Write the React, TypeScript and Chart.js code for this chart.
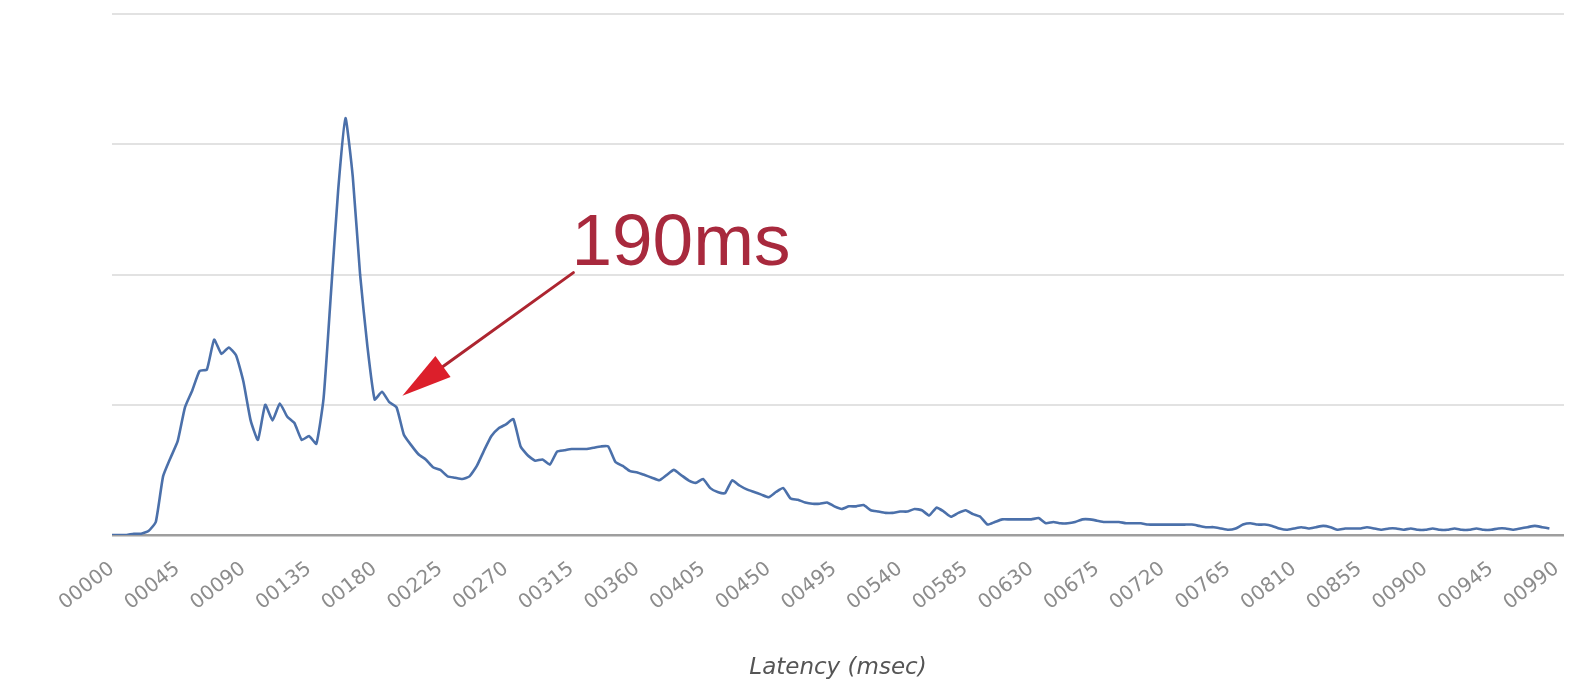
import React, { useEffect, useRef } from "react";
import { Chart, registerables } from "chart.js";

Chart.register(...registerables);

// Histogram bins of 5 ms each (00000 .. 00995)
const BIN_MS = 5;
const BIN_COUNT = 200;
const LABEL_EVERY = 9; // one visible tick label every 45 ms

// Request counts per 5 ms bin
const counts: number[] = [
  0, 0, 0, 1, 1, 3, 10, 45, 59, 72,
  98, 111, 126, 127, 150, 139, 144, 138, 118, 88,
  73, 100, 88, 101, 91, 86, 73, 76, 70, 105,
  185, 265, 320, 275, 200, 145, 104, 110, 102, 98,
  77, 69, 62, 58, 52, 50, 45, 44, 43, 45,
  53, 65, 76, 82, 85, 89, 68, 61, 57, 58,
  54, 64, 65, 66, 66, 66, 67, 68, 68, 56,
  53, 49, 48, 46, 44, 42, 46, 50, 46, 42,
  40, 43, 36, 33, 32, 42, 38, 35, 33, 31,
  29, 33, 36, 28, 27, 25, 24, 24, 25, 22,
  20, 22, 22, 23, 19, 18, 17, 17, 18, 18,
  20, 19, 15, 21, 18, 14, 17, 19, 16, 14,
  8, 10, 12, 12, 12, 12, 12, 13, 9, 10,
  9, 9, 10, 12, 12, 11, 10, 10, 10, 9,
  9, 9, 8, 8, 8, 8, 8, 8, 8, 7,
  6, 6, 5, 4, 5, 8, 9, 8, 8, 7,
  5, 4, 5, 6, 5, 6, 7, 6, 4, 5,
  5, 5, 6, 5, 4, 5, 5, 4, 5, 4,
  4, 5, 4, 4, 5, 4, 4, 5, 4, 4,
  5, 5, 4, 5, 6, 7, 6, 5,
];

const latencyLabels: string[] = Array.from({ length: BIN_COUNT }, (_, i) =>
  String(i * BIN_MS).padStart(5, "0")
);

const Y_MAX = 400;
const Y_STEP = 100;

// Annotation
const ANNOTATION_TEXT = "190ms";
const ARROW_TIP_INDEX = 39.8; // position along the category axis
const ARROW_TIP_VALUE = 107;

const annotationPlugin = {
  id: "latencyAnnotation",
  afterDraw(chart: any) {
    const { ctx } = chart;
    const xs = chart.scales.x;
    const ys = chart.scales.y;
    const tipX = xs.getPixelForValue(ARROW_TIP_INDEX);
    const tipY = ys.getPixelForValue(ARROW_TIP_VALUE);
    const tailX = tipX + 171;
    const tailY = tipY - 123;
    const dx = tipX - tailX;
    const dy = tipY - tailY;
    const len = Math.sqrt(dx * dx + dy * dy);
    const ux = dx / len;
    const uy = dy / len;
    const headLen = 50;
    const headHalf = 13;
    const baseX = tipX - ux * headLen;
    const baseY = tipY - uy * headLen;

    ctx.save();
    // shaft
    ctx.strokeStyle = "#ad2530";
    ctx.lineWidth = 3;
    ctx.lineCap = "round";
    ctx.beginPath();
    ctx.moveTo(tailX, tailY);
    ctx.lineTo(baseX + ux * 6, baseY + uy * 6);
    ctx.stroke();
    // head
    ctx.fillStyle = "#dc1f2b";
    ctx.beginPath();
    ctx.moveTo(tipX, tipY);
    ctx.lineTo(baseX - uy * headHalf, baseY + ux * headHalf);
    ctx.lineTo(baseX + uy * headHalf, baseY - ux * headHalf);
    ctx.closePath();
    ctx.fill();
    // text
    ctx.fillStyle = "#a8293d";
    ctx.font = '73px "Liberation Sans", Arial, sans-serif';
    ctx.textAlign = "left";
    ctx.textBaseline = "alphabetic";
    ctx.fillText(ANNOTATION_TEXT, tailX - 2, tailY - 8);
    ctx.restore();
  },
};

export default function App() {
  const canvasRef = useRef<HTMLCanvasElement | null>(null);

  useEffect(() => {
    const canvas = canvasRef.current;
    if (!canvas) return;
    const chart = new Chart(canvas, {
      type: "line",
      data: {
        labels: latencyLabels,
        datasets: [
          {
            data: counts,
            borderColor: "#4b70aa",
            borderWidth: 2.6,
            pointRadius: 0,
            tension: 0.15,
            fill: false,
          },
        ],
      },
      options: {
        animation: false,
        responsive: false,
        devicePixelRatio: 1,
        layout: { padding: { top: 14, left: 112, right: 28, bottom: 10 } },
        plugins: {
          legend: { display: false },
          tooltip: { enabled: false },
        },
        scales: {
          x: {
            grid: { display: false, drawTicks: false },
            border: { display: false },
            ticks: {
              autoSkip: false,
              maxRotation: 38,
              minRotation: 38,
              padding: 22,
              color: "#8c8c8c",
              font: { family: "DejaVu Sans", size: 20 },
              callback: (_v: any, i: number) =>
                i % LABEL_EVERY === 0 ? latencyLabels[i] : "",
            },
            title: {
              display: true,
              text: "Latency (msec)",
              color: "#555555",
              font: { family: "DejaVu Sans", size: 23, style: "italic" },
              padding: 0,
            },
            afterFit: (s: any) => {
              s.height = 147;
              s.paddingLeft = 0;
              s.paddingRight = 0;
            },
          },
          y: {
            min: 0,
            max: Y_MAX,
            ticks: { display: false, stepSize: Y_STEP },
            border: { display: false },
            grid: {
              drawTicks: false,
              color: (c: any) => (c.tick.value === 0 ? "#9e9e9e" : "#e2e2e2"),
              lineWidth: (c: any) => (c.tick.value === 0 ? 2.5 : 2),
            },
            afterFit: (s: any) => {
              s.width = 0;
            },
          },
        },
      } as any,
      plugins: [annotationPlugin],
    });
    return () => chart.destroy();
  }, []);

  return (
    <div style={{ position: "absolute", left: 0, top: 0, width: 1592, height: 692, background: "#fff" }}>
      <canvas ref={canvasRef} width={1592} height={692} style={{ display: "block" }} />
    </div>
  );
}
